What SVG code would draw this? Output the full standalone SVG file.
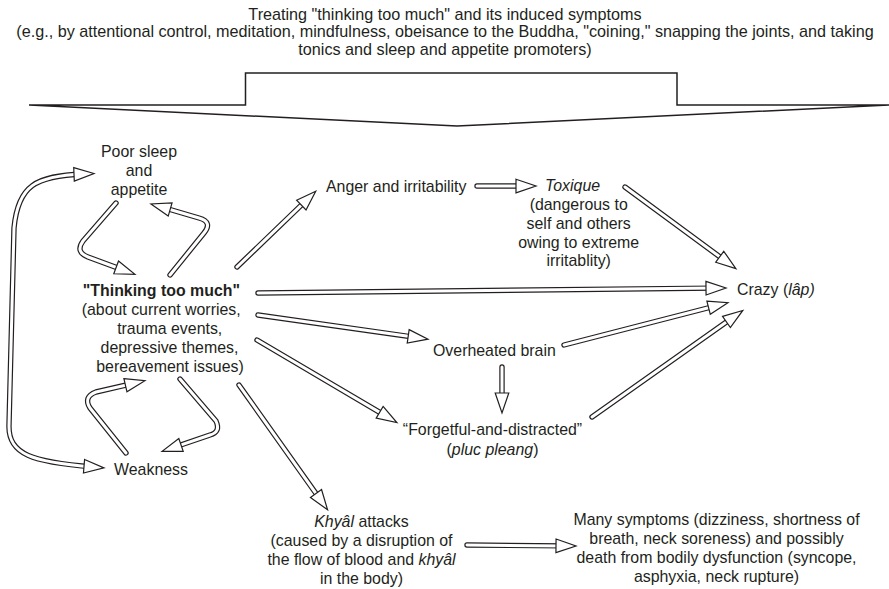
<svg xmlns="http://www.w3.org/2000/svg" xmlns:xlink="http://www.w3.org/1999/xlink" width="889" height="589" viewBox="0 0 889 589">
  <style>
    text { font-family: "Liberation Sans", Arial, Helvetica, sans-serif; font-size: 15.9px; fill: #231f20; }
    .top { font-size: 16.2px; text-anchor: middle; }
    .c { text-anchor: middle; }
    .b { font-weight: bold; }
    .it { font-style: italic; }
    .o { fill: none; stroke: #231f20; stroke-width: 5.4; stroke-linecap: round; stroke-linejoin: round; }
    .i { fill: none; stroke: #fff; stroke-width: 3; stroke-linecap: round; stroke-linejoin: round; marker-end: url(#ah); }
    .i2 { marker-start: url(#ah); }
    .big { fill: #fff; stroke: #231f20; stroke-width: 1.5; stroke-linejoin: miter; }
  </style>
  <defs>
    <!-- open triangular head; the reference point sits 10px behind the tip -->
    <marker id="ah" markerUnits="userSpaceOnUse" viewBox="-2 -9 24 18" markerWidth="24" markerHeight="18" refX="9" refY="0" orient="auto-start-reverse" overflow="visible">
      <polygon points="0,-6.8 20,0 0,6.8" fill="#fff" stroke="#231f20" stroke-width="1.2"/>
    </marker>
    <!-- connector centre lines -->
    <path id="p1" d="M116,203 L83,241 Q75,252 88,257 L124.6,270.5"/>
    <path id="p2" d="M170,275 L204,233 Q213,222 199,218 L161.5,207"/>
    <path id="p3" d="M83,174 C36,176 18,185 14,228 L9,425 C8,455 33,462 93,467"/>
    <path id="p4" d="M126,453 L90,408 Q83,397 96,392 L134.2,383.2"/>
    <path id="p5" d="M180,379 L216,421 Q221,432 210,435 L172.5,447.8"/>
    <path id="p6" d="M237,267 L307.8,198.9"/>
    <path id="p7" d="M477,186 L525,186"/>
    <path id="p8" d="M625,187 L727,262.1"/>
    <path id="p9" d="M258,293 L715,288.1"/>
    <path id="p10" d="M258,315 L417.1,337.6"/>
    <path id="p11" d="M564,345 L717.3,305.5"/>
    <path id="p12" d="M592,417 L733.8,316.8"/>
    <path id="p13" d="M502,367 L502,402"/>
    <path id="p14" d="M257,340 L387.4,416.9"/>
    <path id="p15" d="M239,385 L321.2,500.8"/>
    <path id="p16" d="M467,545 L565,545.9"/>
  </defs>

  <!-- treatment banner and the broad arrow below it -->
  <g id="treatment">
    <text class="top" x="445" y="19.5">Treating "thinking too much" and its induced symptoms</text>
    <text class="top" x="445" y="37">(e.g., by attentional control, meditation, mindfulness, obeisance to the Buddha, "coining," snapping the joints, and taking</text>
    <text class="top" x="445" y="54.5">tonics and sleep and appetite promoters)</text>
    <polygon class="big" points="29,105 245.5,105 245.5,73 677,73 677,105 889,105 457,126"/>
  </g>

  <g id="connectors">
    <use xlink:href="#p1" class="o"/><use xlink:href="#p1" class="i"/>
    <use xlink:href="#p2" class="o"/><use xlink:href="#p2" class="i"/>
    <use xlink:href="#p3" class="o"/><use xlink:href="#p3" class="i i2"/>
    <use xlink:href="#p4" class="o"/><use xlink:href="#p4" class="i"/>
    <use xlink:href="#p5" class="o"/><use xlink:href="#p5" class="i"/>
    <use xlink:href="#p6" class="o"/><use xlink:href="#p6" class="i"/>
    <use xlink:href="#p7" class="o"/><use xlink:href="#p7" class="i"/>
    <use xlink:href="#p8" class="o"/><use xlink:href="#p8" class="i"/>
    <use xlink:href="#p9" class="o"/><use xlink:href="#p9" class="i"/>
    <use xlink:href="#p10" class="o"/><use xlink:href="#p10" class="i"/>
    <use xlink:href="#p11" class="o"/><use xlink:href="#p11" class="i"/>
    <use xlink:href="#p12" class="o"/><use xlink:href="#p12" class="i"/>
    <use xlink:href="#p13" class="o"/><use xlink:href="#p13" class="i"/>
    <use xlink:href="#p14" class="o"/><use xlink:href="#p14" class="i"/>
    <use xlink:href="#p15" class="o"/><use xlink:href="#p15" class="i"/>
    <use xlink:href="#p16" class="o"/><use xlink:href="#p16" class="i"/>
  </g>

  <g id="poor-sleep">
    <text class="c" x="139" y="157">Poor sleep</text>
    <text class="c" x="139" y="176">and</text>
    <text class="c" x="139" y="195">appetite</text>
  </g>

  <g id="thinking">
    <text class="c b" x="161.4" y="295.5">"Thinking too much"</text>
    <text class="c" x="161.2" y="314.5">(about current worries,</text>
    <text class="c" x="169.7" y="333.5">trauma events,</text>
    <text class="c" x="169.5" y="352.5">depressive themes,</text>
    <text class="c" x="170" y="371.5">bereavement issues)</text>
  </g>

  <g id="weakness">
    <text class="c" x="151" y="475">Weakness</text>
  </g>

  <g id="anger">
    <text x="326" y="191.5">Anger and irritability</text>
  </g>

  <g id="toxique">
    <text x="545" y="190.5" class="it">Toxique</text>
    <text class="c" x="578.7" y="209.5">(dangerous to</text>
    <text class="c" x="578.7" y="228.5">self and others</text>
    <text class="c" x="578.7" y="247.5">owing to extreme</text>
    <text class="c" x="578.7" y="266">irritablity)</text>
  </g>

  <g id="crazy">
    <text x="737" y="295">Crazy (<tspan class="it">lâp)</tspan></text>
  </g>

  <g id="overheated">
    <text x="433" y="355.5">Overheated brain</text>
  </g>

  <g id="forgetful">
    <text class="c" x="492.5" y="435">“Forgetful-and-distracted”</text>
    <text class="c" x="492.5" y="454.5">(<tspan class="it">pluc pleang</tspan>)</text>
  </g>

  <g id="khyal">
    <text class="c" x="361.5" y="527"><tspan class="it">Khyâl</tspan> attacks</text>
    <text class="c" x="361.5" y="546">(caused by a disruption of</text>
    <text class="c" x="361.5" y="565">the flow of blood and <tspan class="it">khyâl</tspan></text>
    <text class="c" x="361.5" y="584">in the body)</text>
  </g>

  <g id="symptoms">
    <text class="c" x="716.5" y="525">Many symptoms (dizziness, shortness of</text>
    <text class="c" x="716.5" y="544">breath, neck soreness) and possibly</text>
    <text class="c" x="716.5" y="563">death from bodily dysfunction (syncope,</text>
    <text class="c" x="716.5" y="582">asphyxia, neck rupture)</text>
  </g>
</svg>
